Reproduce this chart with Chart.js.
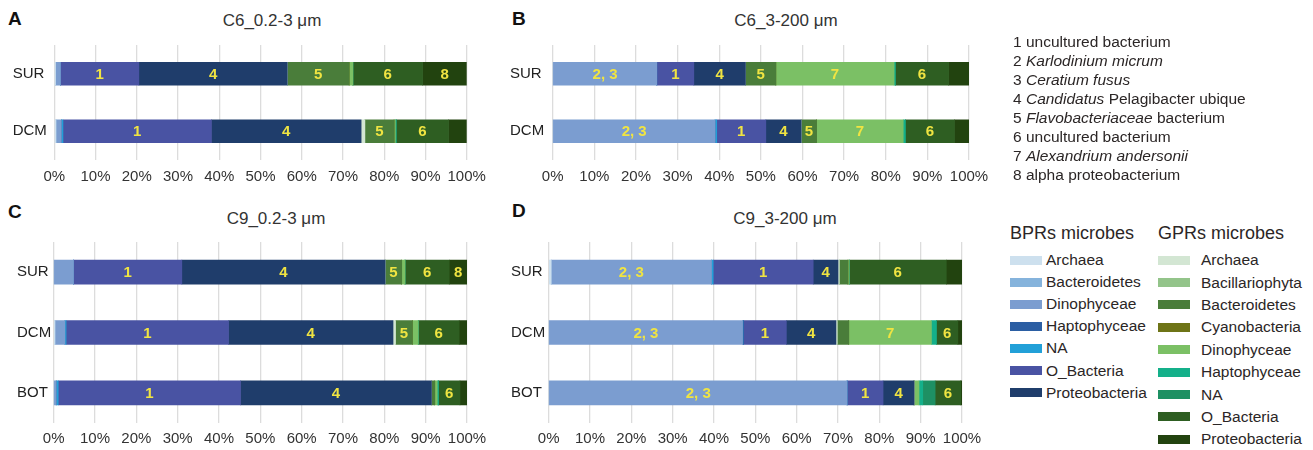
<!DOCTYPE html>
<html>
<head>
<meta charset="utf-8">
<script src="https://cdn.jsdelivr.net/npm/chart.js@4/dist/chart.umd.min.js"></script>
<style>
body { margin: 0; background: #fff; font-family: "Liberation Sans", Arial, sans-serif; color: #2b2626; }
#wrap { position: relative; width: 1313px; height: 450px; overflow: hidden; }
.box { position: absolute; }
.letter { position: absolute; font-weight: bold; font-size: 19px; line-height: 19px; color: #111; }
.title { position: absolute; font-size: 17px; line-height: 17px; transform: translateX(-50%); white-space: nowrap; color: #333; }
#tags { position: absolute; left: 1013px; top: 32px; font-size: 15.5px; line-height: 19px; white-space: nowrap; }
.head { position: absolute; top: 224px; font-size: 18px; line-height: 18px; white-space: nowrap; }
.col { position: absolute; top: 249px; }
.row { display: flex; align-items: center; font-size: 15.5px; white-space: nowrap; }
.sw { width: 32px; height: 9px; margin-right: 4px; }
</style>
</head>
<body>
<div id="wrap">
  <div class="letter" style="left:8px;top:9px">A</div>
  <div class="letter" style="left:512px;top:9px">B</div>
  <div class="letter" style="left:8px;top:202px">C</div>
  <div class="letter" style="left:512px;top:201px">D</div>
  <div class="title" style="left:272px;top:12px">C6_0.2-3 μm</div>
  <div class="title" style="left:786px;top:12px">C6_3-200 μm</div>
  <div class="title" style="left:276px;top:210px">C9_0.2-3 μm</div>
  <div class="title" style="left:785px;top:210px">C9_3-200 μm</div>

  <div class="box" style="left:0;top:33px;width:495px;height:157px"><canvas id="chartA" width="495" height="157"></canvas></div>
  <div class="box" style="left:490px;top:33px;width:507px;height:157px"><canvas id="chartB" width="507" height="157"></canvas></div>
  <div class="box" style="left:0;top:230px;width:495px;height:220px"><canvas id="chartC" width="495" height="220"></canvas></div>
  <div class="box" style="left:490px;top:230px;width:500px;height:220px"><canvas id="chartD" width="500" height="220"></canvas></div>

  <div id="tags">
    <div>1 uncultured bacterium</div>
    <div>2 <i>Karlodinium micrum</i></div>
    <div>3 <i>Ceratium fusus</i></div>
    <div>4 <i>Candidatus</i> Pelagibacter ubique</div>
    <div>5 <i>Flavobacteriaceae</i> bacterium</div>
    <div>6 uncultured bacterium</div>
    <div>7 <i>Alexandrium andersonii</i></div>
    <div>8 alpha proteobacterium</div>
  </div>
  <div class="head" style="left:1010px">BPRs microbes</div>
  <div class="head" style="left:1158px">GPRs microbes</div>
  <div class="col" id="bprLegend" style="left:1010px"></div>
  <div class="col" id="gprLegend" style="left:1158px"></div>
</div>

<script>
const bprGroups = ["Archaea", "Bacteroidetes", "Dinophyceae", "Haptophyceae", "NA", "O_Bacteria", "Proteobacteria"];
const gprGroups = ["Archaea", "Bacillariophyta", "Bacteroidetes", "Cyanobacteria", "Dinophyceae", "Haptophyceae", "NA", "O_Bacteria", "Proteobacteria"];
const bprColors = ["#cde0ee", "#85b3dc", "#7b9dd0", "#2b5ea3", "#22a0d8", "#4953a3", "#1f3d6b"];
const gprColors = ["#d3e6d3", "#93c48a", "#4a7d3a", "#6e7417", "#7bc065", "#14b08a", "#1e9063", "#2e5e22", "#22430f"];
const depths2 = ["SUR", "DCM"];
const depths3 = ["SUR", "DCM", "BOT"];

// relative abundance (%), 7 BPR groups followed by 9 GPR groups
const c6SmallSUR = [0.3, 0, 1.2, 0, 0, 19.0, 36.0, 0, 0, 15.0, 0, 0.9, 0, 0, 16.9, 10.7];
const c6SmallDCM = [0.4, 0, 1.3, 0, 0.4, 36.0, 36.3, 0.9, 0, 7.1, 0, 0.3, 0.2, 0, 12.7, 4.4];
const c6LargeSUR = [0, 0, 25.0, 0, 0, 8.9, 12.4, 0, 0, 7.3, 0, 28.4, 0.3, 0, 12.8, 4.9];
const c6LargeDCM = [0, 0, 39.0, 0, 0.4, 11.8, 8.5, 0, 0, 3.7, 0, 20.8, 0.5, 0, 11.8, 3.5];
const c9SmallSUR = [0, 0, 4.8, 0, 0, 26.2, 49.2, 0, 0, 4.0, 0, 0.8, 0, 0, 10.7, 4.3];
const c9SmallDCM = [0.3, 0, 2.4, 0, 0.3, 39.3, 39.8, 0.6, 0, 4.1, 0, 1.4, 0, 0, 9.9, 1.9];
const c9SmallBOT = [0, 0, 0.6, 0, 0.5, 44.1, 46.2, 0, 0, 0.8, 0, 0.6, 0.3, 0, 5.2, 1.7];
const c9LargeSUR = [0.6, 0, 38.8, 0, 0.4, 24.2, 6.0, 0.3, 0, 2.1, 0, 0.3, 0, 0, 23.5, 3.8];
const c9LargeDCM = [0, 0, 46.9, 0.2, 0, 10.4, 12.0, 0.3, 0, 2.8, 0, 20.0, 1.2, 0, 5.2, 1.0];
const c9LargeBOT = [0, 0, 72.2, 0, 0, 8.7, 7.5, 0, 0, 0, 0, 1.2, 0.9, 3.0, 6.2, 0.3];

// numbered species tags: group index -> tag text
const c6SmallSURTags = {5: "1", 6: "4", 9: "5", 14: "6", 15: "8"};
const c6SmallDCMTags = {5: "1", 6: "4", 9: "5", 14: "6"};
const c6LargeSURTags = {2: "2, 3", 5: "1", 6: "4", 9: "5", 11: "7", 14: "6"};
const c6LargeDCMTags = {2: "2, 3", 5: "1", 6: "4", 9: "5", 11: "7", 14: "6"};
const c9SmallSURTags = {5: "1", 6: "4", 9: "5", 14: "6", 15: "8"};
const c9SmallDCMTags = {5: "1", 6: "4", 9: "5", 14: "6"};
const c9SmallBOTTags = {5: "1", 6: "4", 14: "6"};
const c9LargeSURTags = {2: "2, 3", 5: "1", 6: "4", 14: "6"};
const c9LargeDCMTags = {2: "2, 3", 5: "1", 6: "4", 11: "7", 14: "6"};
const c9LargeBOTTags = {2: "2, 3", 5: "1", 6: "4", 14: "6"};

const allColors = bprColors.concat(gprColors);
const allNames = bprGroups.map(g => "BPR " + g).concat(gprGroups.map(g => "GPR " + g));

// draws the yellow species numbers in the middle of their segments
function tagPlugin(tags) {
    return {
        id: "segmentTags",
        afterDatasetsDraw(chart) {
            const ctx = chart.ctx;
            ctx.save();
            ctx.font = "bold 15px 'Liberation Sans', Arial, sans-serif";
            ctx.fillStyle = "#f0e442";
            ctx.textAlign = "center";
            ctx.textBaseline = "middle";
            chart.data.datasets.forEach((ds, i) => {
                chart.getDatasetMeta(i).data.forEach((bar, j) => {
                    const tag = tags[j][i];
                    if (!tag) return;
                    ctx.fillText(tag, (bar.x + bar.base) / 2, bar.y + 1);
                });
            });
            ctx.restore();
        }
    };
}

function makeChart(id, depths, rows, tags, pad, yWidth, xHeight, tickPad, thick) {
    const datasets = allNames.map((name, i) => ({
        label: name,
        data: rows.map(r => r[i]),
        backgroundColor: allColors[i],
        borderWidth: 0,
        barThickness: thick
    }));
    return new Chart(document.getElementById(id), {
        type: "bar",
        data: { labels: depths, datasets: datasets },
        plugins: [tagPlugin(tags)],
        options: {
            indexAxis: "y",
            responsive: false,
            animation: false,
            layout: { padding: pad },
            scales: {
                x: {
                    stacked: true, min: 0, max: 100,
                    grid: { color: "#dcdcdc", lineWidth: 1.3, drawTicks: false },
                    border: { display: false },
                    ticks: {
                        stepSize: 10, padding: tickPad, color: "#333",
                        maxRotation: 0, minRotation: 0, autoSkip: false,
                        font: { size: 15, family: "'Liberation Sans', Arial, sans-serif" },
                        callback: v => v + "%"
                    },
                    afterFit: s => { s.height = xHeight; }
                },
                y: {
                    stacked: true,
                    grid: { display: false },
                    border: { display: false },
                    ticks: {
                        crossAlign: "far", color: "#222",
                        font: { size: 15, family: "'Liberation Sans', Arial, sans-serif" }
                    },
                    afterFit: s => { s.width = yWidth; }
                }
            },
            plugins: {
                legend: { display: false },
                tooltip: { enabled: false }
            }
        }
    });
}

makeChart("chartA", depths2, [c6SmallSUR, c6SmallDCM], [c6SmallSURTags, c6SmallDCMTags],
    { left: 12.7, top: 11.4, right: 28.3, bottom: 0 }, 41.6, 30, 8, 23);
makeChart("chartB", depths2, [c6LargeSUR, c6LargeDCM], [c6LargeSURTags, c6LargeDCMTags],
    { left: 20, top: 11.4, right: 28, bottom: 0 }, 42.7, 30, 8, 23);
makeChart("chartC", depths3, [c9SmallSUR, c9SmallDCM, c9SmallBOT], [c9SmallSURTags, c9SmallDCMTags, c9SmallBOTTags],
    { left: 17, top: 11, right: 28, bottom: 0 }, 36.7, 27, 7, 24);
makeChart("chartD", depths3, [c9LargeSUR, c9LargeDCM, c9LargeBOT], [c9LargeSURTags, c9LargeDCMTags, c9LargeBOTTags],
    { left: 21, top: 11, right: 28, bottom: 0 }, 37.7, 27, 7, 24);

// legend columns
function fillLegend(elId, names, colors, rowH, gap) {
    const el = document.getElementById(elId);
    names.forEach((n, i) => {
        const row = document.createElement("div");
        row.className = "row";
        row.style.height = rowH + "px";
        const sw = document.createElement("div");
        sw.className = "sw";
        sw.style.background = colors[i];
        sw.style.marginRight = gap + "px";
        row.appendChild(sw);
        row.appendChild(document.createTextNode(n));
        el.appendChild(row);
    });
}
fillLegend("bprLegend", bprGroups, bprColors, 22.1, 4);
fillLegend("gprLegend", gprGroups, gprColors, 22.4, 11);
</script>
</body>
</html>
